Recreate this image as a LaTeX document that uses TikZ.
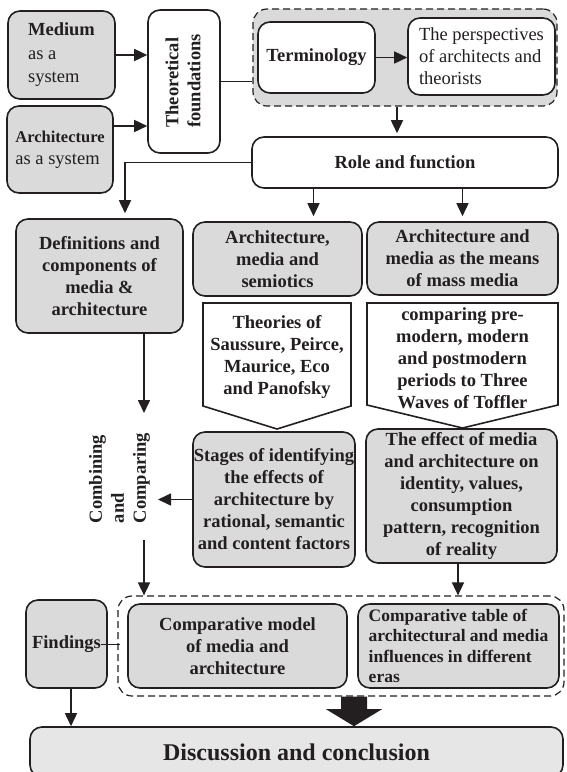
\documentclass[tikz,border=0pt]{standalone}
\usepackage{fontspec}
\setmainfont{Liberation Serif}
\usetikzlibrary{arrows.meta,calc}
\definecolor{ink}{HTML}{231F20}
\definecolor{boxgray}{HTML}{DADADA}
\definecolor{discgray}{HTML}{E6E6E6}
\newcommand{\bodyfont}{\fontsize{18.5}{22}\selectfont}
\begin{document}
\begin{tikzpicture}[x=1pt,y=-1pt,
  base/.style={draw=ink, line width=1.6pt, rounded corners=12pt, inner sep=0pt,
    text=ink, font=\bfseries\bodyfont, align=center},
  gbox/.style={base, fill=boxgray},
  wbox/.style={base, fill=white},
  lbl/.style={text=ink, font=\bfseries\bodyfont, inner sep=0pt},
  arr/.style={draw=ink, line width=1.6pt, -{Triangle[length=13pt,width=12pt]}},
  thinline/.style={draw=ink, line width=0.8pt},
  grp/.style={draw=ink, line width=1.2pt, dash pattern=on 7pt off 4pt, rounded corners=14pt},
  pent/.style={draw=ink, line width=1.6pt, fill=white, line join=miter}
]
\useasboundingbox (0,0) rectangle (566,772);
\clip (0,0) rectangle (566,772);

% ---- top row: systems and theoretical foundations
\node[gbox, minimum width=107pt, minimum height=88pt, align=left,
  font=\bfseries\fontsize{18.5}{23.5}\selectfont] (med) at (61.5,55)
  {Medium\\{\mdseries as a}\\{\mdseries system}};
\node[gbox, minimum width=106pt, minimum height=87pt, align=left] (arch) at (60,149.5)
  {{\fontsize{16.5}{20}\selectfont Architecture}\\{\mdseries as a system}};
\node[wbox, minimum width=72pt, minimum height=143pt] (tf) at (184,81.5) {};
\node[lbl, rotate=90, align=left] (tft) at (183,81) {Theoretical\\foundations};

% dashed group with terminology
\node[grp, fill=boxgray, minimum width=304pt, minimum height=97pt] (grp1) at (405,57.5) {};
\node[wbox, minimum width=117pt, minimum height=71pt] (term) at (316.5,57.5) {Terminology};
\node[wbox, minimum width=147pt, minimum height=77pt, align=left, font=\mdseries\bodyfont] (persp) at (481.5,56.5)
  {The perspectives\\of architects and\\theorists};

\node[wbox, minimum width=306pt, minimum height=51pt] (role) at (405,162.5) {Role and function};

% ---- second row
\node[gbox, minimum width=167pt, minimum height=114pt] (defs) at (99.5,276)
  {Definitions and\\components of\\media \&\\architecture};
\node[gbox, minimum width=169pt, minimum height=74pt] (ams) at (277.5,259)
  {Architecture,\\media and\\semiotics};
\node[gbox, minimum width=191pt, minimum height=73pt] (amm) at (462.5,258.5)
  {Architecture and\\media as the means\\of mass media};

% pentagon callouts
\draw[pent] (203,303) -- (351,303) -- (351,406) -- (277,429) -- (203,406) -- cycle;
\node[lbl, align=center] (theo) at (277,357)
  {Theories of\\Saussure, Peirce,\\Maurice, Eco\\and Panofsky};
\draw[pent] (367,303) -- (558,303) -- (558,405) -- (462.5,428) -- (367,405) -- cycle;
\node[lbl, align=center] (cmpr) at (462.5,358)
  {comparing pre-\\modern, modern\\and postmodern\\periods to Three\\Waves of Toffler};

% ---- third row
\node[gbox, minimum width=162pt, minimum height=135pt] (stages) at (274,499.5)
  {Stages of identifying\\the effects of\\architecture by\\rational, semantic\\and content factors};
\node[gbox, minimum width=191pt, minimum height=134pt] (effect) at (461.5,496)
  {The effect of media\\and architecture on\\identity, values,\\consumption\\pattern, recognition\\of reality};
\node[lbl, rotate=90, align=left] (cc) at (119.5,478) {Combining\\and\\Comparing};
\coordinate (ccin) at (144,413);
\coordinate (ccright) at (158,500);
\coordinate (ccbot) at (144,540);

% ---- bottom row
\node[grp, minimum width=446pt, minimum height=100pt] (grp2) at (341,646) {};
\node[gbox, minimum width=219pt, minimum height=84pt] (model) at (237.5,646)
  {Comparative model\\of media and\\architecture};
\node[gbox, minimum width=201pt, minimum height=84pt, align=left,
  font=\bfseries\fontsize{17.5}{20.5}\selectfont] (table) at (458.5,646)
  {Comparative table of\\architectural and media\\influences in different\\eras};
\node[gbox, minimum width=81pt, minimum height=88pt] (find) at (66.5,644) {Findings};
\node[base, fill=discgray, minimum width=533pt, minimum height=50pt,
  font=\bfseries\fontsize{24}{28}\selectfont] (disc) at (296.5,752) {Discussion and conclusion};

% ---- connectors
\draw[arr] (med.east) -- (med.east -| tf.west);
\draw[arr] ([yshift=23.5pt]arch.east) -- ([yshift=23.5pt]arch.east -| tf.west);
\draw[thinline] (tf.east) -- (tf.east -| grp1.west);
\draw[arr] (term.east) -- (term.east -| persp.west);
\draw[arr, shorten >=3pt] ([xshift=-8pt]grp1.south) -- ([xshift=-8pt]grp1.south |- role.north);
\draw[arr, shorten >=5pt] (role.west) -| ([xshift=25.5pt]defs.north);
\draw[arr, shorten >=5pt] ([xshift=36pt]ams.north |- role.south) -- ([xshift=36pt]ams.north);
\draw[arr, shorten >=5pt] (amm.north |- role.south) -- (amm.north);
\draw[arr] ([xshift=44.5pt]defs.south) -- (ccin);
\draw[arr] (stages.west) -- (stages.west -| ccright);
\draw[arr] (ccbot) -- (ccbot |- grp2.north);
\draw[arr] ([xshift=-3.5pt]effect.south) -- ([xshift=-3.5pt]effect.south |- grp2.north);
\draw[thinline] ([xshift=-7pt]find.east) -- ([xshift=-7pt]find.east -| model.west);
\draw[arr] ([xshift=4.5pt]find.south) -- ([xshift=4.5pt]find.south |- disc.north);

% broad arrow from the comparison group into the conclusion
\coordinate (bt) at ([xshift=13pt]grp2.south);
\coordinate (bh) at (bt |- disc.north);
\fill[ink] ($(bt)+(-13,0)$) -- ($(bt)+(13,0)$) -- ($(bh)+(13,-17)$) -- ($(bh)+(28,-17)$)
  -- (bh) -- ($(bh)+(-28,-17)$) -- ($(bh)+(-13,-17)$) -- cycle;
\end{tikzpicture}
\end{document}
